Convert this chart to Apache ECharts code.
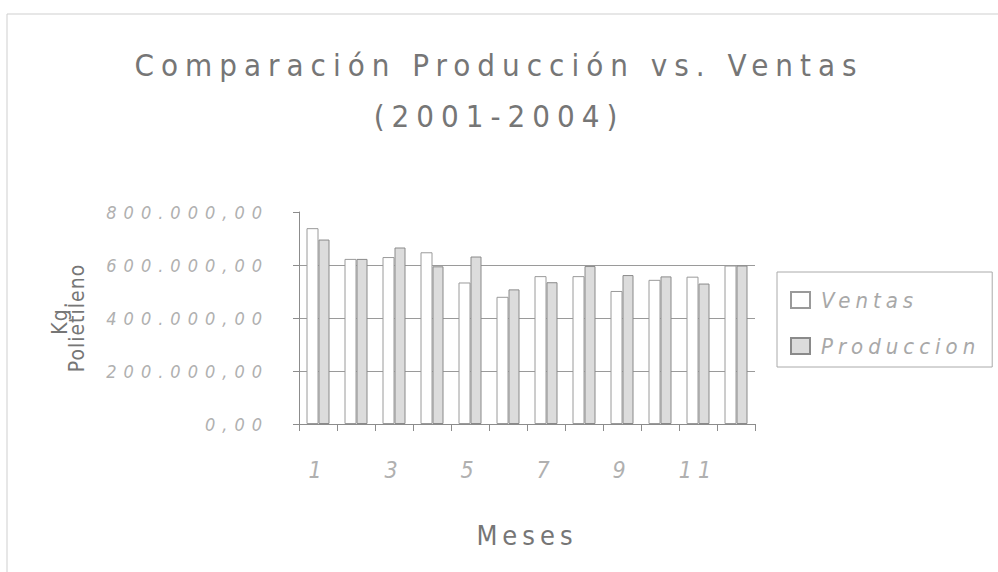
<!DOCTYPE html>
<html>
<head>
<meta charset="utf-8">
<title>Comparación Producción vs. Ventas</title>
<script src="https://cdn.jsdelivr.net/npm/echarts@6.0.0/dist/echarts.min.js"></script>
<style>
  html, body { margin: 0; padding: 0; background: #fff; }
  #chart { width: 998px; height: 572px; }
  /* the scanned chart uses very wide letter spacing */
  #chart text[style*="31px"] { letter-spacing: 7px; }
  #chart text[style*="18px"] { letter-spacing: 7px; }
  #chart text[style*="23px"] { letter-spacing: 6px; }
  #chart text[style*="27px"] { letter-spacing: 5px; }
  #chart text[style*="21px"] { letter-spacing: 1px; }
  #chart text[style*="22px"] { letter-spacing: 5px; }
</style>
</head>
<body>
<div id="chart"></div>
<script>
const meses = ['1', '2', '3', '4', '5', '6', '7', '8', '9', '10', '11', '12'];
const ventas = [739000, 623000, 630000, 648000, 534000, 480000, 558000, 558000, 502000, 544000, 556000, 598000];
const produccion = [696000, 623000, 666000, 595000, 632000, 508000, 535000, 596000, 562000, 557000, 530000, 598000];

const font = "'Liberation Sans Narrow', 'DejaVu Sans Condensed', 'Liberation Sans', sans-serif";

// 800000 -> "800.000,00"
const fmt = (v) => {
    const parts = v.toFixed(2).split('.');
    return parts[0].replace(/\B(?=(\d{3})+(?!\d))/g, '.') + ',' + parts[1];
};

const chart = echarts.init(document.getElementById('chart'), null, { renderer: 'svg' });

const option = {
    backgroundColor: '#fff',
    animation: false,
    title: {
        text: 'Comparación Producción vs. Ventas\n(2001-2004)',
        left: 'center',
        top: 34,
        textStyle: {
            fontFamily: font,
            fontSize: 31,
            fontWeight: 'normal',
            lineHeight: 51,
            color: '#767676'
        }
    },
    legend: {
        orient: 'vertical',
        left: 777,
        top: 272,
        padding: [17, 62, 10, 13],
        itemGap: 24,
        itemWidth: 19,
        itemHeight: 16,
        icon: 'rect',
        borderColor: '#aaa',
        borderWidth: 1,
        data: ['Ventas', 'Produccion'],
        textStyle: {
            fontFamily: font,
            fontSize: 22,
            fontStyle: 'italic',
            color: '#a8a8a8',
            padding: [0, 0, 0, 6]
        }
    },
    grid: {
        left: 299,
        right: 243,
        top: 212,
        bottom: 148
    },
    xAxis: {
        type: 'category',
        data: meses,
        name: 'Meses',
        nameLocation: 'middle',
        nameGap: 98,
        nameTextStyle: {
            fontFamily: font,
            fontSize: 27,
            color: '#767676'
        },
        axisLine: { lineStyle: { color: '#8c8c8c', width: 1 } },
        axisTick: { show: true, interval: 0, length: 7, lineStyle: { color: '#8c8c8c' } },
        axisLabel: {
            interval: 1,
            margin: 34,
            fontFamily: font,
            fontSize: 23,
            fontStyle: 'italic',
            color: '#b0b0b0'
        }
    },
    yAxis: {
        type: 'value',
        min: 0,
        max: 800000,
        interval: 200000,
        name: 'Kg.\nPolietileno',
        nameLocation: 'middle',
        nameRotate: 90,
        nameGap: 214,
        nameTextStyle: {
            fontFamily: font,
            fontSize: 21,
            lineHeight: 17,
            color: '#767676'
        },
        axisLine: { show: true, lineStyle: { color: '#8c8c8c', width: 1 } },
        axisTick: { show: true, length: 6, lineStyle: { color: '#8c8c8c' } },
        axisLabel: {
            margin: 30,
            formatter: fmt,
            fontFamily: font,
            fontSize: 18,
            fontStyle: 'italic',
            color: '#b0b0b0'
        },
        splitLine: {
            show: true,
            showMaxLine: false,
            lineStyle: { color: '#9a9a9a', width: 1 }
        }
    },
    series: [
        {
            name: 'Ventas',
            type: 'bar',
            data: ventas,
            barWidth: 12,
            barGap: 0,
            itemStyle: { color: '#ffffff', borderColor: '#9a9a9a', borderWidth: 1 }
        },
        {
            name: 'Produccion',
            type: 'bar',
            data: produccion,
            barWidth: 11,
            itemStyle: { color: '#dcdcdc', borderColor: '#8a8a8a', borderWidth: 1 }
        }
    ],
    graphic: [
        {
            // outer chart area frame
            type: 'rect',
            silent: true,
            shape: { x: 7, y: 14, width: 1000, height: 570 },
            style: { fill: 'none', stroke: '#cfcfcf', lineWidth: 1 }
        }
    ]
};

chart.setOption(option);
</script>
</body>
</html>
